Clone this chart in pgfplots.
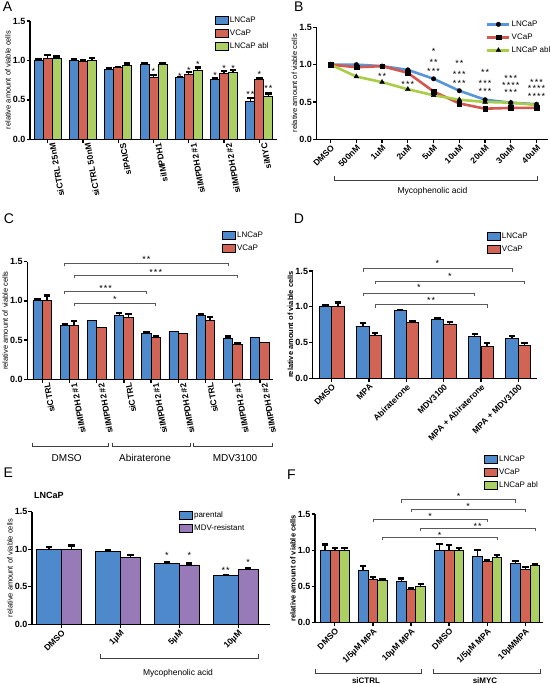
\documentclass[border=0pt]{standalone}
\usepackage{fontspec}
\setmainfont{Liberation Sans}
\usepackage{pgfplots}
\pgfplotsset{compat=1.18}
\definecolor{cB}{RGB}{78,138,203}
\definecolor{cR}{RGB}{210,100,85}
\definecolor{cG}{RGB}{172,207,100}
\definecolor{cP}{RGB}{152,122,184}
\definecolor{lB}{RGB}{86,150,218}
\definecolor{lR}{RGB}{212,88,80}
\definecolor{lG}{RGB}{170,205,70}
\tikzset{st/.style={font=\fontsize{9}{10}\selectfont, inner sep=0pt, anchor=base, yshift=-5.2pt}}
\newcommand{\sA}{*}
\newcommand{\sB}{*\kern1.1pt*}
\newcommand{\sC}{*\kern1.1pt*\kern1.1pt*}
\newcommand{\sD}{*\kern1.1pt*\kern1.1pt*\kern1.1pt*}
\newcommand{\sig}[6]{%
  \draw[line width=0.7pt, black!65] ([yshift=-3pt]axis cs:#1,#3) -- (axis cs:#1,#3) -- (axis cs:#2,#3) -- ([yshift=-3pt]axis cs:#2,#3);
  \node[st] at (axis cs:#4,#5) {#6};
}
\pgfplotsset{
  gp/.style={
    scale only axis, clip=false, anchor=south west,
    axis lines*=left,
    axis line style={line width=1.4pt, -},
    tick align=outside, major tick length=3.5pt,
    tick style={line width=1.3pt, black},
    ymin=0, ymax=1.5, ytick={0,0.5,1,1.5}, yticklabels={0.0,0.5,1.0,1.5},
    tick label style={font=\bfseries\fontsize{8.5}{9.5}\selectfont},
    y tick label style={inner sep=1pt, font=\bfseries\fontsize{9}{10}\selectfont, text=black},
    x tick label style={rotate=45, anchor=north east, inner sep=1pt},
    ylabel={relative amount of viable cells},
    ylabel style={font=\fontsize{7.5}{8}\selectfont, inner sep=1pt},
    legend cell align=left,
    legend image code/.code={\draw[##1, draw=black, line width=0.8pt] (0pt,-4pt) rectangle (13pt,4pt);},
    legend style={draw=none, fill=none, anchor=north west, font=\fontsize{8}{9}\selectfont, inner sep=0pt, row sep=3.6pt, nodes={inner sep=1pt, text height=5.8pt, text depth=1.6pt}},
  },
  gpbar/.style={ybar, draw=black, line width=0.8pt, bar shift=0pt, forget plot,
    error bars/y dir=plus, error bars/y explicit,
    error bars/error bar style={line width=1.4pt, black, solid},
    error bars/error mark options={rotate=90, mark size=3.2pt, line width=2.2pt, black}},
  nobar/.style={ybar, draw=black, line width=0.8pt, bar shift=0pt, forget plot},
}
\begin{document}
\begin{tikzpicture}
\useasboundingbox (0,0) rectangle (550pt,684pt);
\fill[white] (0,0) rectangle (550pt,684pt);
% panel letters
\node[font=\fontsize{14}{16}\selectfont] at (7.5pt,677pt) {A};
\node[font=\fontsize{14}{16}\selectfont] at (298.7pt,677pt) {B};
\node[font=\fontsize{14}{16}\selectfont] at (9pt,465.5pt) {C};
\node[font=\fontsize{14}{16}\selectfont] at (299pt,465pt) {D};
\node[font=\fontsize{14}{16}\selectfont] at (8.3pt,211pt) {E};
\node[font=\fontsize{14}{16}\selectfont] at (291.3pt,209pt) {F};

% ---------------- A ----------------
\begin{axis}[gp, at={(30pt,544.7pt)}, width=247pt, height=118.3pt,
  xmin=-0.5, xmax=6.5, xtick={0,...,6},
  xticklabels={siCTRL 25nM, siCTRL 50nM, siPAICS, siIMPDH1, siIMPDH2 \#1, siIMPDH2 \#2, siMYC},
  x tick label style={rotate=55},
  legend style={at={(axis description cs:0.749,1.045)}}]
\addplot[gpbar, fill=cB, bar width=9pt] coordinates {(-0.255,1.00) +- (0,0.02) (0.745,1.00) +- (0,0.02) (1.745,0.89) +- (0,0.01) (2.745,0.95) +- (0,0.01) (3.745,0.78) +- (0,0.01) (4.745,0.76) +- (0,0.02) (5.745,0.48) +- (0,0.04)};
\addplot[gpbar, fill=cR, bar width=9pt] coordinates {(0,1.02) +- (0,0.05) (1,0.99) +- (0,0.02) (2,0.91) +- (0,0.01) (3,0.79) +- (0,0.03) (4,0.82) +- (0,0.03) (5,0.83) +- (0,0.04) (6,0.76) +- (0,0.02)};
\addplot[gpbar, fill=cG, bar width=9pt] coordinates {(0.255,1.02) +- (0,0.03) (1.255,1.00) +- (0,0.03) (2.255,0.94) +- (0,0.02) (3.255,0.95) +- (0,0.02) (4.255,0.87) +- (0,0.04) (5.255,0.85) +- (0,0.03) (6.255,0.55) +- (0,0.03)};
\addlegendimage{fill=cB}\addlegendentry{LNCaP}
\addlegendimage{fill=cR}\addlegendentry{VCaP}
\addlegendimage{fill=cG}\addlegendentry{LNCaP abl}
\node[st] at (axis cs:3,0.89) {\sA};
\node[st] at (axis cs:3.745,0.83) {\sA};
\node[st] at (axis cs:4,0.90) {\sA};
\node[st] at (axis cs:4.255,0.976) {\sA};
\node[st] at (axis cs:4.745,0.84) {\sA};
\node[st] at (axis cs:5,0.92) {\sA};
\node[st] at (axis cs:5.255,0.93) {\sA};
\node[st] at (axis cs:5.745,0.60) {\sB};
\node[st] at (axis cs:6,0.85) {\sA};
\node[st] at (axis cs:6.255,0.67) {\sB};
\end{axis}

% ---------------- B ----------------
\begin{axis}[gp, at={(316.7pt,544.7pt)}, width=231.2pt, height=112pt,
  xmin=-0.54, xmax=8.44, xtick={0,...,8},
  xticklabels={DMSO,500nM,1uM,2uM,5uM,10uM,20uM,30uM,40uM},
  legend image code/.code={\draw[mark repeat=2,mark phase=2,#1] plot coordinates {(0pt,0pt) (11pt,0pt) (22pt,0pt)};},
  legend style={at={(axis description cs:0.732,1.07)}}]
\addplot[color=lB, line width=2.6pt, mark=*, mark size=2.3pt, mark options={fill=black, draw=black, line width=0.3pt, solid}] coordinates {(0,1.00) (1,1.00) (2,0.98) (3,0.93) (4,0.81) (5,0.65) (6,0.53) (7,0.49) (8,0.47)};
\addlegendentry{LNCaP}
\addplot[color=lR, line width=2.6pt, mark=square*, mark size=2.3pt, mark options={fill=black, draw=black, line width=0.3pt, solid}] coordinates {(0,1.00) (1,0.965) (2,0.98) (3,0.89) (4,0.64) (5,0.48) (6,0.41) (7,0.42) (8,0.42)};
\addlegendentry{VCaP}
\addplot[color=lG, line width=2.6pt, mark=triangle*, mark size=2.8pt, mark options={fill=black, draw=black, line width=0.3pt, solid}] coordinates {(0,1.00) (1,0.84) (2,0.765) (3,0.67) (4,0.59) (5,0.53) (6,0.50) (7,0.49) (8,0.46)};
\addlegendentry{LNCaP abl}
\node[st] at (axis cs:2,0.87) {\sB};
\node[st] at (axis cs:3,0.76) {\sC};
\node[st] at (axis cs:4,1.21) {\sA};
\node[st] at (axis cs:4,1.06) {\sB};
\node[st] at (axis cs:4,0.94) {\sC};
\node[st] at (axis cs:5,1.04) {\sB};
\node[st] at (axis cs:5,0.90) {\sC};
\node[st] at (axis cs:5,0.78) {\sC};
\node[st] at (axis cs:6,0.93) {\sB};
\node[st] at (axis cs:6,0.78) {\sC};
\node[st] at (axis cs:6,0.67) {\sC};
\node[st] at (axis cs:7,0.84) {\sC};
\node[st] at (axis cs:7,0.75) {\sD};
\node[st] at (axis cs:7,0.65) {\sC};
\node[st] at (axis cs:8,0.79) {\sC};
\node[st] at (axis cs:8,0.705) {\sD};
\node[st] at (axis cs:8,0.60) {\sD};
\end{axis}
\draw[line width=0.8pt, black!75] (334pt,508pt) -- (334pt,504pt) -- (537pt,504pt) -- (537pt,508pt);
\node[font=\fontsize{8.5}{10}\selectfont] at (432.5pt,492.3pt) {Mycophenolic acid};

% ---------------- C ----------------
\begin{axis}[gp, at={(27.3pt,304.7pt)}, width=245.9pt, height=117.6pt,
  xmin=-0.55, xmax=8.49, xtick={0,...,8},
  xticklabels={siCTRL, siIMPDH2 \#1, siIMPDH2 \#2, siCTRL, siIMPDH2 \#1, siIMPDH2 \#2, siCTRL, siIMPDH2 \#1, siIMPDH2 \#2},
  x tick label style={rotate=55},
  legend style={at={(axis description cs:0.792,1.265)}}]
\addplot[gpbar, fill=cB, bar width=9.3pt] coordinates {(-0.171,1.00) +- (0,0.02) (0.829,0.685) +- (0,0.025) (2.829,0.81) +- (0,0.035) (3.829,0.58) +- (0,0.025) (5.829,0.81) +- (0,0.025) (6.829,0.52) +- (0,0.025)};
\addplot[gpbar, fill=cR, bar width=9.3pt] coordinates {(0.171,1.00) +- (0,0.07) (1.171,0.685) +- (0,0.06) (3.171,0.79) +- (0,0.045) (4.171,0.53) +- (0,0.025) (6.171,0.75) +- (0,0.045) (7.171,0.445) +- (0,0.015)};
\addplot[nobar, fill=cB, bar width=9.3pt] coordinates {(1.829,0.745) (4.829,0.615) (7.829,0.53)};
\addplot[nobar, fill=cR, bar width=9.3pt] coordinates {(2.171,0.66) (5.171,0.59) (8.171,0.465)};
\addlegendimage{fill=cB}\addlegendentry{LNCaP}
\addlegendimage{fill=cR}\addlegendentry{VCaP}
\sig{0.829}{6.829}{1.48}{3.83}{1.55}{\sB}
\sig{1.171}{7.171}{1.33}{4.17}{1.39}{\sC}
\sig{0.829}{3.829}{1.12}{2.33}{1.18}{\sC}
\sig{1.171}{4.171}{0.97}{2.67}{1.04}{\sA}
\end{axis}
\draw[line width=0.8pt, black!75] (32pt,241.3pt) -- (32pt,237.3pt) -- (108pt,237.3pt) -- (108pt,241.3pt);
\draw[line width=0.8pt, black!75] (112pt,241.3pt) -- (112pt,237.3pt) -- (190pt,237.3pt) -- (190pt,241.3pt);
\draw[line width=0.8pt, black!75] (193pt,241.3pt) -- (193pt,237.3pt) -- (272pt,237.3pt) -- (272pt,241.3pt);
\node[font=\fontsize{10}{12}\selectfont] at (66.7pt,225.7pt) {DMSO};
\node[font=\fontsize{10}{12}\selectfont] at (145pt,225.7pt) {Abiraterone};
\node[font=\fontsize{10}{12}\selectfont] at (235pt,225.7pt) {MDV3100};

% ---------------- D ----------------
\begin{axis}[gp, at={(312.7pt,305.7pt)}, width=224.5pt, height=107.3pt,
  xmin=-0.51, xmax=5.51, xtick={0,...,5},
  xticklabels={DMSO, MPA, Abiraterone, MDV3100, MPA + Abiraterone, MPA + MDV3100},
  ylabel style={font=\bfseries\fontsize{7.5}{8}\selectfont},
  legend style={at={(axis description cs:0.776,1.37)}}]
\addplot[gpbar, fill=cB, bar width=12.3pt] coordinates {(-0.165,1.00) +- (0,0.02) (0.835,0.72) +- (0,0.05) (1.835,0.945) +- (0,0.015) (2.835,0.82) +- (0,0.02) (3.835,0.59) +- (0,0.03) (4.835,0.56) +- (0,0.03)};
\addplot[gpbar, fill=cR, bar width=12.3pt] coordinates {(0.165,1.00) +- (0,0.06) (1.165,0.595) +- (0,0.04) (2.165,0.78) +- (0,0.02) (3.165,0.76) +- (0,0.025) (4.165,0.45) +- (0,0.04) (5.165,0.46) +- (0,0.03)};
\addlegendimage{fill=cB}\addlegendentry{LNCaP}
\addlegendimage{fill=cR}\addlegendentry{VCaP}
\sig{0.835}{4.835}{1.53}{2.835}{1.64}{\sA}
\sig{1.165}{5.165}{1.36}{3.165}{1.46}{\sA}
\sig{0.835}{3.835}{1.19}{2.335}{1.30}{\sA}
\sig{1.165}{4.165}{1.03}{2.665}{1.12}{\sB}
\end{axis}

% ---------------- E ----------------
\node[font=\bfseries\fontsize{9}{10}\selectfont] at (49pt,189pt) {LNCaP};
\begin{axis}[gp, at={(32pt,59.7pt)}, width=238pt, height=112.6pt,
  xmin=-0.5, xmax=3.54, xtick={0,...,3},
  xticklabels={DMSO, 1µM, 5µM, 10µM},
  legend style={at={(axis description cs:0.618,1.01), row sep=4.2pt}}]
\addplot[gpbar, fill=cB, bar width=25pt] coordinates {(-0.212,1.00) +- (0,0.035) (0.788,0.976) +- (0,0.015) (1.788,0.81) +- (0,0.02) (2.788,0.645) +- (0,0.015)};
\addplot[gpbar, fill=cP, bar width=20pt] coordinates {(0.170,1.00) +- (0,0.05) (1.170,0.89) +- (0,0.03) (2.170,0.79) +- (0,0.02) (3.170,0.725) +- (0,0.025)};
\addlegendimage{fill=cB}\addlegendentry{parental}
\addlegendimage{fill=cP}\addlegendentry{MDV-resistant}
\node[st] at (axis cs:1.788,0.945) {\sA};
\node[st] at (axis cs:2.170,0.945) {\sA};
\node[st] at (axis cs:2.788,0.745) {\sB};
\node[st] at (axis cs:3.170,0.85) {\sA};
\end{axis}
\draw[line width=0.8pt, black!75] (100pt,29.7pt) -- (100pt,25.7pt) -- (258pt,25.7pt) -- (258pt,29.7pt);
\node[font=\fontsize{8.5}{10}\selectfont] at (178pt,10.7pt) {Mycophenolic acid};

% ---------------- F ----------------
\begin{axis}[gp, at={(315pt,61.3pt)}, width=228.2pt, height=108.7pt,
  xmin=-0.52, xmax=5.47, xtick={0,...,5},
  xticklabels={DMSO, 1/5µM MPA, 10µM MPA, DMSO, 1/5µM MPA, 10µMMPA},
  ylabel style={font=\bfseries\fontsize{7.5}{8}\selectfont},
  legend style={at={(axis description cs:0.741,1.55), row sep=3pt}}]
\addplot[gpbar, fill=cB, bar width=9.7pt] coordinates {(-0.255,1.00) +- (0,0.08) (0.745,0.72) +- (0,0.06) (1.745,0.566) +- (0,0.045) (2.745,1.00) +- (0,0.09) (3.745,0.92) +- (0,0.08) (4.745,0.82) +- (0,0.035)};
\addplot[gpbar, fill=cR, bar width=9.7pt] coordinates {(0,1.00) +- (0,0.035) (1,0.60) +- (0,0.035) (2,0.46) +- (0,0.02) (3,1.00) +- (0,0.07) (4,0.84) +- (0,0.02) (5,0.74) +- (0,0.025)};
\addplot[gpbar, fill=cG, bar width=9.7pt] coordinates {(0.255,1.00) +- (0,0.035) (1.255,0.585) +- (0,0.015) (2.255,0.505) +- (0,0.025) (3.255,1.00) +- (0,0.035) (4.255,0.90) +- (0,0.035) (5.255,0.786) +- (0,0.025)};
\addlegendimage{fill=cB}\addlegendentry{LNCaP}
\addlegendimage{fill=cR}\addlegendentry{VCaP}
\addlegendimage{fill=cG}\addlegendentry{LNCaP abl}
\sig{1.745}{4.745}{1.70}{3.25}{1.77}{\sA}
\sig{2.0}{5.0}{1.57}{3.5}{1.64}{\sA}
\sig{1.0}{4.0}{1.43}{2.5}{1.50}{\sA}
\sig{2.255}{5.255}{1.30}{3.75}{1.36}{\sB}
\sig{1.255}{4.255}{1.18}{2.75}{1.24}{\sA}
\end{axis}
\draw[line width=0.8pt, black!75] (315pt,14.7pt) -- (315pt,10.7pt) -- (421.7pt,10.7pt) -- (421.7pt,14.7pt);
\draw[line width=0.8pt, black!75] (433.3pt,14.7pt) -- (433.3pt,10.7pt) -- (540pt,10.7pt) -- (540pt,14.7pt);
\node[font=\bfseries\fontsize{8}{9}\selectfont, anchor=base] at (366pt,1pt) {siCTRL};
\node[font=\bfseries\fontsize{8}{9}\selectfont, anchor=base] at (485pt,1pt) {siMYC};
\end{tikzpicture}
\end{document}
